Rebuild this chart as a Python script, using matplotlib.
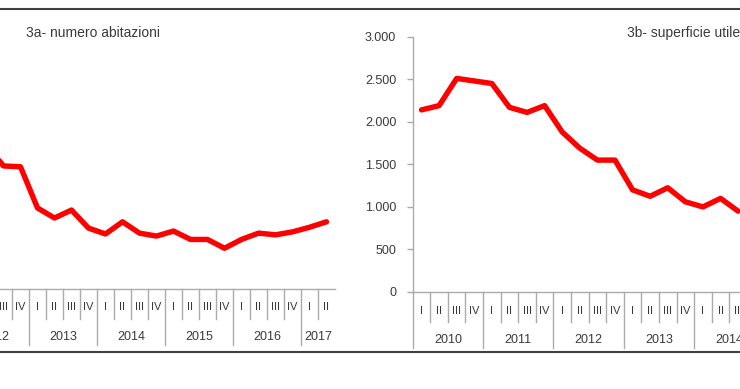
import matplotlib
matplotlib.use("Agg")
import matplotlib.pyplot as plt
from matplotlib.lines import Line2D
import matplotlib.transforms as mtransforms

# ---------------- data ----------------
years = ["2010", "2011", "2012", "2013", "2014", "2015", "2016", "2017"]
quarter_names = ["I", "II", "III", "IV"]
n_quarters = 30  # 2010 I .. 2017 II

# 3a - numero abitazioni (visible part: 2012 II .. 2017 II)
abitazioni_first = 9  # index of 2012 II in the quarter sequence
abitazioni = [34300, 29300, 29100,
              19300, 16900, 18800, 14500,
              13100, 16000, 13300, 12600,
              13800, 11800, 11800, 9700,
              11800, 13300, 12900, 13600,
              14700, 16000]

# 3b - superficie utile (visible part: 2010 I .. 2014 III), migliaia di m2
superficie_first = 0
superficie = [2140, 2190, 2510, 2480,
              2450, 2170, 2110, 2190,
              1880, 1690, 1550, 1550,
              1200, 1125, 1225, 1060,
              1000, 1100, 950]

title_a = "3a- numero abitazioni"
title_b = "3b- superficie utile abitabile"

# ---------------- figure ----------------
W, H = 740, 389
fig = plt.figure(figsize=(W / 100, H / 100), dpi=100)
plt.rcParams['font.family'] = ['Liberation Sans', 'DejaVu Sans']

def fx(px):
    return px / W

def fy(py):
    return 1 - py / H

GRAY = "#ABABAB"
TXT = "#3A3A3A"
RED = "#FF0000"

quarter_labels = [quarter_names[i % 4] for i in range(n_quarters)]


def build(ax, values, first, ylim, h_px, show_y):
    x = list(range(first, first + len(values)))
    ax.plot(x, values, color=RED, lw=3.9, solid_joinstyle="round",
            solid_capstyle="round", zorder=5)
    ax.set_xlim(-0.5, n_quarters - 0.5)
    ax.set_ylim(*ylim)
    for s in ("top", "right"):
        ax.spines[s].set_visible(False)
    ax.spines["bottom"].set_color(GRAY)
    ax.spines["bottom"].set_linewidth(1.0)
    ax.spines["left"].set_color(GRAY)
    ax.spines["left"].set_linewidth(1.0)
    ax.set_xticks([])
    if show_y:
        ticks = list(range(0, 3001, 500))
        ax.set_yticks(ticks)
        ax.set_yticklabels([f"{t:,}".replace(",", ".") for t in ticks])
        ax.tick_params(axis="y", direction="out", length=4.3, width=1.0,
                       color=GRAY, labelcolor=TXT, labelsize=9, pad=7.5)
    else:
        ax.spines["left"].set_visible(False)
        ax.tick_params(axis="y", left=False, labelleft=False)

    blend = mtransforms.blended_transform_factory(ax.transData, ax.transAxes)
    q_y = -18.5 / h_px
    y_y = -48.0 / h_px
    short = -30.0 / h_px
    long_ = -56.0 / h_px
    for i in range(n_quarters):
        ax.text(i, q_y, quarter_labels[i], transform=blend, ha="center",
                va="center", fontsize=8, color=TXT)
        sep_len = long_ if i % 4 == 0 else short
        ax.plot([i - 0.5, i - 0.5], [0, sep_len], transform=blend,
                color=GRAY, lw=1.0, clip_on=False)
    for k, yr in enumerate(years):
        start = 4 * k
        end = min(4 * k + 3, n_quarters - 1)
        ax.text((start + end) / 2, y_y, yr, transform=blend, ha="center",
                va="center", fontsize=9, color=TXT)


# left chart (its left part is outside the visible canvas)
axL = fig.add_axes([fx(-175), fy(289), 510 / W, 252 / H])
build(axL, abitazioni, abitazioni_first, (0, 60000), 252, False)

# right chart (its right part is outside the visible canvas)
axR = fig.add_axes([fx(412.7), fy(292), 527.7 / W, 255.3 / H])
build(axR, superficie, superficie_first, (0, 3000), 255.3, True)

# titles
fig.text(fx(26), fy(33), title_a, ha="left", va="center", fontsize=10,
         color=TXT)
fig.text(fx(627), fy(33), title_b, ha="left", va="center", fontsize=10,
         color=TXT)

# frame lines
for py in (9, 352):
    fig.add_artist(Line2D([0, 1], [fy(py), fy(py)], transform=fig.transFigure,
                          color="#404040", lw=1.5))

# drop axis labels that fall completely outside the visible canvas
fig.canvas.draw()
renderer = fig.canvas.get_renderer()
for ax in (axL, axR):
    for t in list(ax.texts):
        bb = t.get_window_extent(renderer)
        if bb.x1 <= 0 or bb.x0 >= W:
            t.remove()

fig.savefig("out.png", dpi=100)
